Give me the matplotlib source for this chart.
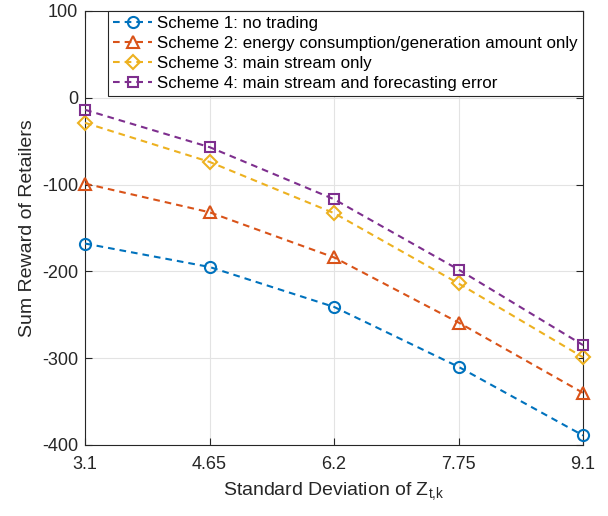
import matplotlib
matplotlib.use("Agg")
import matplotlib.pyplot as plt

plt.rcParams['font.family'] = ['Liberation Sans', 'DejaVu Sans']
plt.rcParams['mathtext.fontset'] = 'custom'
plt.rcParams['mathtext.rm'] = 'Liberation Sans'
plt.rcParams['mathtext.it'] = 'Liberation Sans'
plt.rcParams['axes.unicode_minus'] = False

x_labels = ['3.1', '4.65', '6.2', '7.75', '9.1']
scheme1 = [-168, -195, -241, -310, -389]
scheme2 = [-99, -132, -184, -259, -340]
scheme3 = [-29, -74, -133, -214, -299]
scheme4 = [-14, -57, -117, -198, -285]
names = ['Scheme 1: no trading',
         'Scheme 2: energy consumption/generation amount only',
         'Scheme 3: main stream only',
         'Scheme 4: main stream and forecasting error']

colors = ['#0072BD', '#D95319', '#EDB120', '#7E2F8E']
markers = ['o', '^', 'D', 's']
msizes = [8, 9, 7, 7]

fig = plt.figure(figsize=(6.08, 5.16), dpi=100)
ax = fig.add_axes([0.140, 0.1376, 0.819, 0.8414])

xs = list(range(len(x_labels)))
for ys, c, m, ms, n in zip([scheme1, scheme2, scheme3, scheme4], colors, markers, msizes, names):
    ax.plot(xs, ys, linestyle=(0, (3.2, 2.4)), color=c, linewidth=1.5, marker=m,
            markersize=ms, markerfacecolor='none', markeredgecolor=c,
            markeredgewidth=1.5, label=n, clip_on=False, zorder=3)

ax.set_xlim(0, 4)
ax.set_ylim(-400, 100)
ax.set_xticks(xs)
ax.set_xticklabels(x_labels)
ax.set_yticks([-400, -300, -200, -100, 0, 100])
ax.tick_params(direction='in', labelsize=13, colors='#262626', length=5, width=0.8,
               top=True, right=True, pad=5)
ax.tick_params(axis='x', pad=8)
ax.grid(True, color='#e3e3e3', linewidth=0.8)
ax.set_axisbelow(True)
for s in ax.spines.values():
    s.set_color('#262626')
    s.set_linewidth(0.8)

ax.set_xlabel(r'Standard Deviation of Z$_{\mathregular{t{,}k}}$', fontsize=14,
              color='#262626', labelpad=5)
ax.set_ylabel('Sum Reward of Retailers', fontsize=14, color='#262626')

leg = ax.legend(loc='upper right', fontsize=12.2, frameon=True, fancybox=False,
                borderaxespad=0, handlelength=2.3, handletextpad=0.3,
                labelspacing=0.3, borderpad=0.3)
leg.get_frame().set_edgecolor('#262626')
leg.get_frame().set_linewidth(0.8)
leg.get_frame().set_alpha(1)

fig.savefig('out.png', dpi=100)
